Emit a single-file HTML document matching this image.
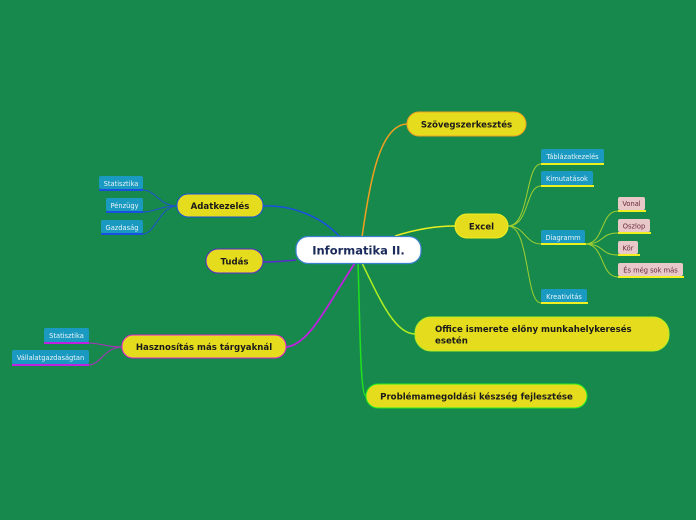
<!DOCTYPE html>
<html><head><meta charset="utf-8"><style>
html,body{margin:0;padding:0;background:#18894d;}
svg{display:block}
text{font-family:"DejaVu Sans","Liberation Sans",sans-serif;}
.b{font-weight:bold;font-size:8.6px;fill:#1a1a1a;text-anchor:middle}
.s{font-size:6.7px;fill:#e8f4f8;text-anchor:middle}
.p{font-size:6.7px;fill:#6a2a3a;text-anchor:middle}
</style></head><body>
<svg width="696" height="520" viewBox="0 0 696 520" xmlns="http://www.w3.org/2000/svg">
<rect width="696" height="520" fill="#18894d"/>
<g fill="none">
<path d="M362 237 C370 180 380 125 407 124" stroke="#f0a020" stroke-width="1.5"/>
<path d="M395 236 C420 228 440 226 455 226" stroke="#e8f020" stroke-width="1.5"/>
<path d="M340 237 C320 215 290 205 263 206" stroke="#1a50e0" stroke-width="1.5"/>
<path d="M296 260 C285 261 275 262 263 262" stroke="#5a2ad0" stroke-width="1.5"/>
<path d="M355 263 C330 300 310 345 286 347" stroke="#c020e0" stroke-width="1.8"/>
<path d="M362 263 C380 300 395 334 415 334" stroke="#b0f020" stroke-width="1.5"/>
<path d="M358 263 C360 320 360 396 366 396" stroke="#20e020" stroke-width="1.5"/>
<g stroke="#2050d0" stroke-width="1">
<path d="M177 206 C160 206 155 190 143 190"/>
<path d="M177 206 C160 206 155 212 143 212"/>
<path d="M177 206 C160 206 155 234 143 234"/>
</g>
<g stroke="#1a50e0" stroke-width="2">
<line x1="99" y1="190" x2="143" y2="190"/><line x1="106" y1="212" x2="143" y2="212"/><line x1="101" y1="234" x2="143" y2="234"/>
</g>
<g stroke="#b030c0" stroke-width="1">
<path d="M122 347 C105 347 100 343 89 343"/>
<path d="M122 347 C105 347 100 365 89 365"/>
</g>
<g stroke="#c020e0" stroke-width="2">
<line x1="44" y1="343" x2="89" y2="343"/><line x1="12" y1="365" x2="89" y2="365"/>
</g>
<g stroke="#a0d030" stroke-width="1">
<path d="M508 226 C530 226 525 164 541 164"/>
<path d="M508 226 C530 226 525 186 541 186"/>
<path d="M508 226 C525 226 525 244 541 244"/>
<path d="M508 226 C530 226 525 303 541 303"/>
<path d="M585 244 C605 244 600 211 618 211"/>
<path d="M585 244 C605 244 600 233 618 233"/>
<path d="M585 244 C605 244 600 255 618 255"/>
<path d="M585 244 C605 244 600 277 618 277"/>
</g>
<g stroke="#f0f020" stroke-width="2">
<line x1="541" y1="164" x2="604" y2="164"/><line x1="541" y1="186" x2="594" y2="186"/>
<line x1="541" y1="244" x2="586" y2="244"/><line x1="541" y1="303" x2="588" y2="303"/>
<line x1="618" y1="211" x2="646" y2="211"/><line x1="618" y1="233" x2="651" y2="233"/>
<line x1="618" y1="255" x2="640" y2="255"/><line x1="618" y1="277" x2="684" y2="277"/>
</g>
</g>
<rect x="296" y="236.5" width="125" height="27" rx="12" fill="#fff" stroke="#3a80d0" stroke-width="1.2"/>
<text x="358.5" y="254.5" style="font-weight:bold;font-size:11.5px;fill:#1a2a5a;text-anchor:middle">Informatika II.</text>
<rect x="407" y="112" width="119" height="24" rx="12" fill="#e6dc1e" stroke="#f0a020"/>
<text class="b" x="466.5" y="127.5">Szövegszerkesztés</text>
<rect x="455" y="214" width="53" height="24" rx="12" fill="#e6dc1e" stroke="#f0f020"/>
<text class="b" x="481.5" y="229.5">Excel</text>
<rect x="177" y="194" width="86" height="23" rx="11" fill="#e6dc1e" stroke="#1a50e0"/>
<text class="b" x="220" y="209">Adatkezelés</text>
<rect x="206" y="249" width="57" height="24" rx="12" fill="#e6dc1e" stroke="#5a2ad0"/>
<text class="b" x="234.5" y="264.5">Tudás</text>
<rect x="122" y="335" width="164" height="23" rx="11" fill="#e6dc1e" stroke="#e020d0"/>
<text class="b" x="204" y="350">Hasznosítás más tárgyaknál</text>
<rect x="415" y="317" width="254" height="34" rx="16" fill="#e6dc1e" stroke="#b0f020"/>
<text class="b" x="435" y="332" style="text-anchor:start">Office ismerete előny munkahelykeresés</text>
<text class="b" x="435" y="343.5" style="text-anchor:start">esetén</text>
<rect x="366" y="384" width="221" height="24" rx="12" fill="#e6dc1e" stroke="#20f020"/>
<text class="b" x="476.5" y="399.5">Problémamegoldási készség fejlesztése</text>
<g fill="#1a9ac0">
<rect x="99" y="176" width="44" height="13" rx="2"/><rect x="106" y="198" width="37" height="13" rx="2"/><rect x="101" y="220" width="42" height="13" rx="2"/>
<rect x="44" y="328" width="45" height="14" rx="2"/><rect x="12" y="350" width="77" height="14" rx="2"/>
<rect x="541" y="149" width="63" height="14" rx="2"/><rect x="541" y="171" width="52" height="14" rx="2"/>
<rect x="541" y="230" width="44" height="13" rx="2"/><rect x="541" y="289" width="46" height="13" rx="2"/>
</g>
<text class="s" x="121" y="186">Statisztika</text>
<text class="s" x="124.5" y="208">Pénzügy</text>
<text class="s" x="122" y="230">Gazdaság</text>
<text class="s" x="66.5" y="338">Statisztika</text>
<text class="s" x="50.5" y="360">Vállalatgazdaságtan</text>
<text class="s" x="572.5" y="159">Táblázatkezelés</text>
<text class="s" x="567" y="181">Kimutatások</text>
<text class="s" x="563" y="240">Diagramm</text>
<text class="s" x="564" y="299">Kreativitás</text>
<g fill="#e8c8c8">
<rect x="618" y="197" width="27" height="13" rx="2"/><rect x="618" y="219" width="32" height="13" rx="2"/>
<rect x="618" y="241" width="20" height="13" rx="2"/><rect x="618" y="263" width="65" height="13" rx="2"/>
</g>
<text class="p" x="631.5" y="206">Vonal</text>
<text class="p" x="634" y="228.5">Oszlop</text>
<text class="p" x="628" y="250.5">Kör</text>
<text class="p" x="650.5" y="272.5">És még sok más</text>
</svg>
</body></html>
